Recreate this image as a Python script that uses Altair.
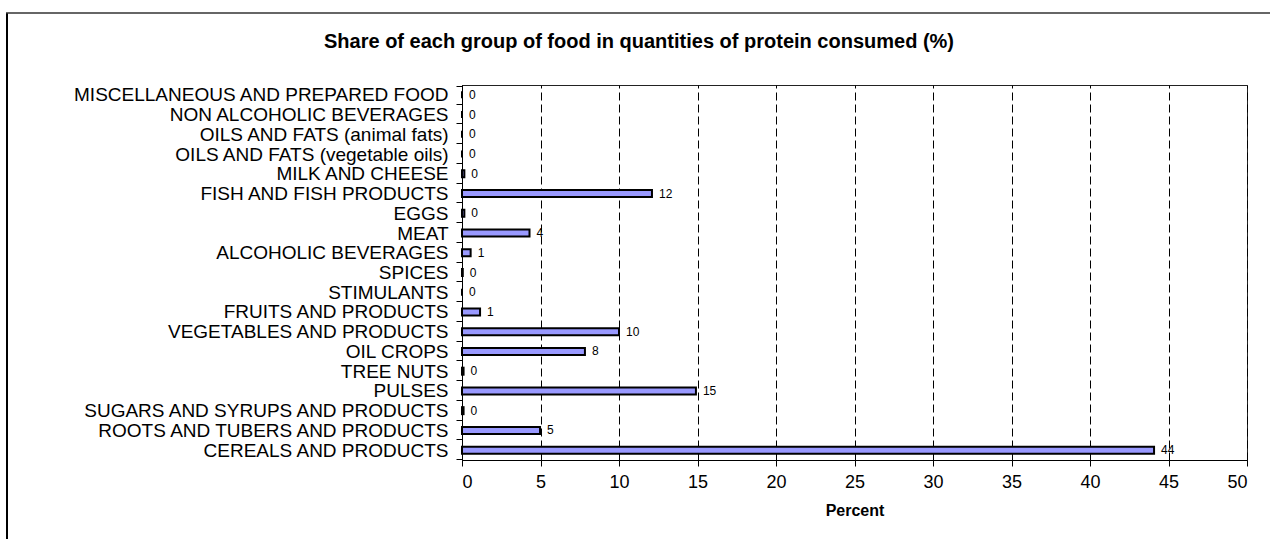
import altair as alt
import pandas as pd

# Food groups, top to bottom as listed on the axis
groups = [
    "MISCELLANEOUS AND PREPARED FOOD",
    "NON ALCOHOLIC BEVERAGES",
    "OILS AND FATS (animal fats)",
    "OILS AND FATS (vegetable oils)",
    "MILK AND CHEESE",
    "FISH AND FISH PRODUCTS",
    "EGGS",
    "MEAT",
    "ALCOHOLIC BEVERAGES",
    "SPICES",
    "STIMULANTS",
    "FRUITS AND PRODUCTS",
    "VEGETABLES AND PRODUCTS",
    "OIL CROPS",
    "TREE NUTS",
    "PULSES",
    "SUGARS AND SYRUPS AND PRODUCTS",
    "ROOTS AND TUBERS AND PRODUCTS",
    "CEREALS AND PRODUCTS",
]

# Share of protein consumed (%)
shares = [0, 0, 0, 0, 0.15, 12.1, 0.15, 4.3, 0.55, 0.05, 0,
          1.15, 10.0, 7.83, 0.1, 14.9, 0.1, 4.97, 44.08]

x_ticks = [0, 5, 10, 15, 20, 25, 30, 35, 40, 45, 50]

chart_title = ["Share of each group of food in quantities of protein consumed (%)"]

df = pd.DataFrame({"group": groups, "share": shares})

W, H = 785, 375
FONT = "Liberation Sans"

y_enc = alt.Y(
    "group:N",
    sort=groups,
    title=None,
    axis=alt.Axis(
        labelFontSize=19,
        labelColor="black",
        labelPadding=8,
        labelLimit=600,
        tickSize=6,
        tickColor="black",
        domainColor="black",
        tickBand="extent",
        grid=False,
    ),
)

x_enc = alt.X(
    "share:Q",
    scale=alt.Scale(domain=[0, 50], nice=False, zero=True),
    title="Percent",
    axis=alt.Axis(
        values=x_ticks,
        labelFontSize=18,
        labelColor="black",
        labelPadding=7,
        tickSize=6,
        tickColor="black",
        domainColor="black",
        grid=True,
        gridColor="black",
        gridDash=[8, 4],
        gridWidth=1,
        titleFontSize=16,
        titleFontWeight="bold",
        titleColor="black",
        titlePadding=11,
    ),
)

bars = alt.Chart(df).mark_bar(
    size=7, color="#9999FF", stroke="black", strokeWidth=2
).encode(x=x_enc, y=y_enc)

labels = alt.Chart(df).mark_text(
    align="left", baseline="middle", dx=7, fontSize=12, color="black", font=FONT
).encode(
    x="share:Q",
    y=alt.Y("group:N", sort=groups),
    text=alt.Text("share:Q", format=".0f"),
)

# Chart heading, centred over the whole figure
heading = alt.Chart(pd.DataFrame({"t": chart_title})).mark_text(
    align="center", baseline="middle", fontSize=20, fontWeight="bold",
    color="black", font=FONT
).encode(x=alt.value(177), y=alt.value(-43), text="t:N")

# Outer frame around the whole figure (left and top edges)
frame_df = pd.DataFrame({"k": [0]})
frame_left = alt.Chart(frame_df).mark_rule(color="black", strokeWidth=2).encode(
    x=alt.value(-455), y=alt.value(-72), y2=alt.value(H + 90)
)
frame_top = alt.Chart(frame_df).mark_rule(color="#333333", strokeWidth=1.5).encode(
    x=alt.value(-456), x2=alt.value(W + 40), y=alt.value(-72)
)

chart = (
    alt.layer(bars, labels, heading, frame_left, frame_top)
    .properties(
        width=W,
        height=H,
        autosize=alt.AutoSizeParams(type="none"),
        padding={"left": 462, "top": 85, "right": 23, "bottom": 79},
    )
    .configure(font=FONT)
    .configure_view(stroke="#222222", strokeWidth=1)
    .configure_axis(labelFont=FONT, titleFont=FONT)
)

chart.save("out.html", embed_options={"renderer": "svg", "actions": False})
